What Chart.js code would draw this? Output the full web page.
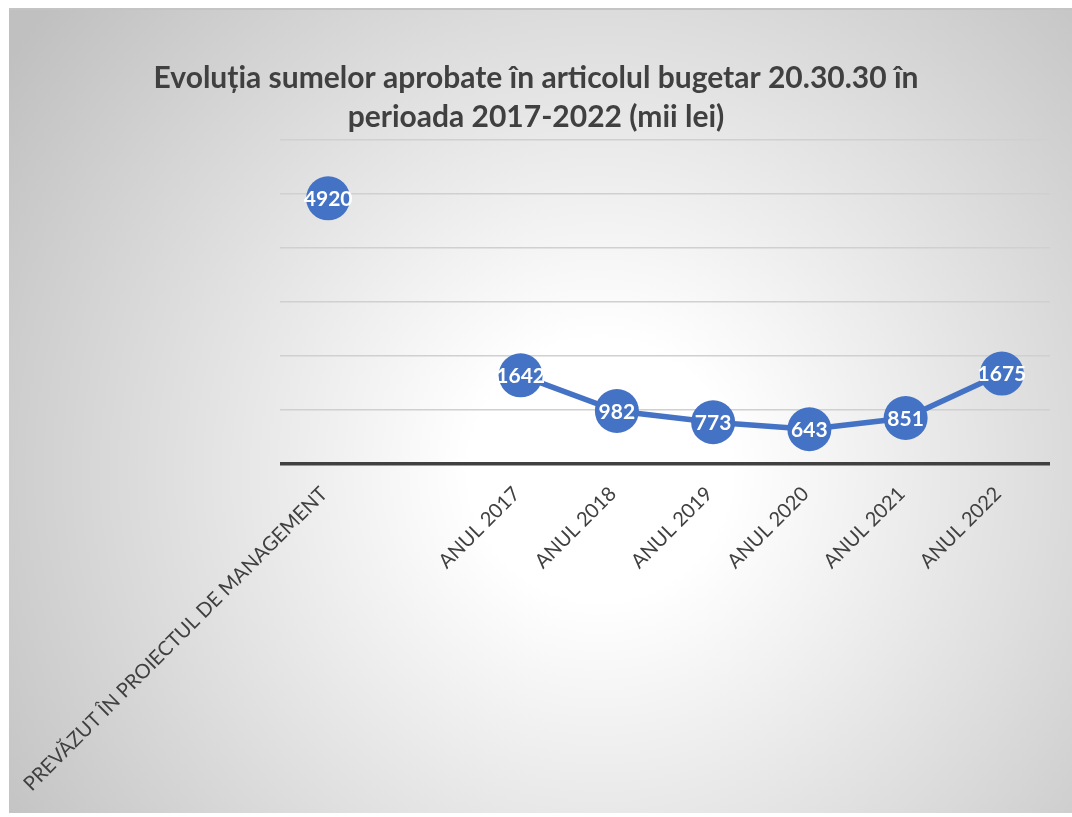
<!DOCTYPE html>
<html>
<head>
<meta charset="utf-8">
<script src="https://cdn.jsdelivr.net/npm/chart.js@4/dist/chart.umd.min.js"></script>
<style>
  html, body { margin: 0; padding: 0; background: #fff; }
  #chart { display: block; }
</style>
</head>
<body>
<canvas id="chart" width="1072" height="817"></canvas>
<script>
// chart data
var categories = ['PREVĂZUT ÎN PROIECTUL DE MANAGEMENT', '', 'ANUL 2017', 'ANUL 2018', 'ANUL 2019', 'ANUL 2020', 'ANUL 2021', 'ANUL 2022'];
var values = [4920, null, 1642, 982, 773, 643, 851, 1675];
var yTicks = [0, 1000, 2000, 3000, 4000, 5000, 6000];
var titleLines = ['Evoluția sumelor aprobate în articolul bugetar 20.30.30 în', 'perioada 2017-2022 (mii lei)'];

var blue = '#4472C4';
var dark = '#404040';

// gray radial background behind the whole chart
var bgPlugin = {
  id: 'bg',
  beforeDraw: function (chart) {
    var c = chart.ctx;
    c.save();
    c.fillStyle = '#fff';
    c.fillRect(0, 0, chart.width, chart.height);
    var g = c.createRadialGradient(600, 470, 130, 600, 470, 720);
    g.addColorStop(0, '#ffffff');
    g.addColorStop(1, '#c0c0c0');
    c.fillStyle = g;
    c.fillRect(9, 8, chart.width - 9, chart.height - 12);
    c.fillStyle = '#c4c4c4';
    c.fillRect(9, 8, chart.width - 9, 2);
    c.restore();
  }
};

// white value labels inside the markers
var valueLabels = {
  id: 'valueLabels',
  afterDatasetsDraw: function (chart) {
    var c = chart.ctx;
    var meta = chart.getDatasetMeta(0);
    c.save();
    c.font = 'bold 21px Lato';
    c.fillStyle = '#fff';
    c.textAlign = 'center';
    c.textBaseline = 'middle';
    meta.data.forEach(function (pt, i) {
      if (values[i] == null) return;
      c.fillText(String(values[i]), pt.x, pt.y + 1);
    });
    c.restore();
  }
};

new Chart(document.getElementById('chart').getContext('2d'), {
  type: 'line',
  data: {
    labels: categories,
    datasets: [{
      data: values,
      borderColor: blue,
      backgroundColor: blue,
      borderWidth: 5.5,
      pointRadius: 22,
      pointHoverRadius: 22,
      pointBackgroundColor: blue,
      pointBorderWidth: 0,
      spanGaps: false,
      tension: 0,
      clip: false
    }]
  },
  options: {
    responsive: false,
    animation: false,
    events: [],
    layout: { padding: { left: 22, right: 22, top: 0, bottom: 0 } },
    plugins: {
      legend: { display: false },
      tooltip: { enabled: false },
      title: {
        display: true,
        text: titleLines,
        color: dark,
        font: { family: 'Lato', size: 30, weight: 'bold', lineHeight: 1.3 },
        padding: { top: 59, bottom: 3 }
      }
    },
    scales: {
      x: {
        offset: true,
        grid: { display: false },
        border: { display: false },
        ticks: {
          autoSkip: false,
          maxRotation: 45,
          minRotation: 45,
          color: dark,
          padding: 10,
          labelOffset: -4,
          font: { family: 'Lato', size: 20 }
        },
        afterFit: function (s) { s.height = 353; }
      },
      y: {
        min: 0,
        max: 6000,
        afterBuildTicks: function (s) { s.ticks = yTicks.map(function (v) { return { value: v }; }); },
        afterFit: function (s) { s.width = 258; },
        ticks: { display: false },
        border: { display: false },
        grid: {
          drawTicks: false,
          color: function (ctx) { return ctx.tick && ctx.tick.value === 0 ? dark : '#d0d0d0'; },
          lineWidth: function (ctx) { return ctx.tick && ctx.tick.value === 0 ? 3.5 : 1.5; }
        }
      }
    }
  },
  plugins: [bgPlugin, valueLabels]
});
</script>
</body>
</html>
